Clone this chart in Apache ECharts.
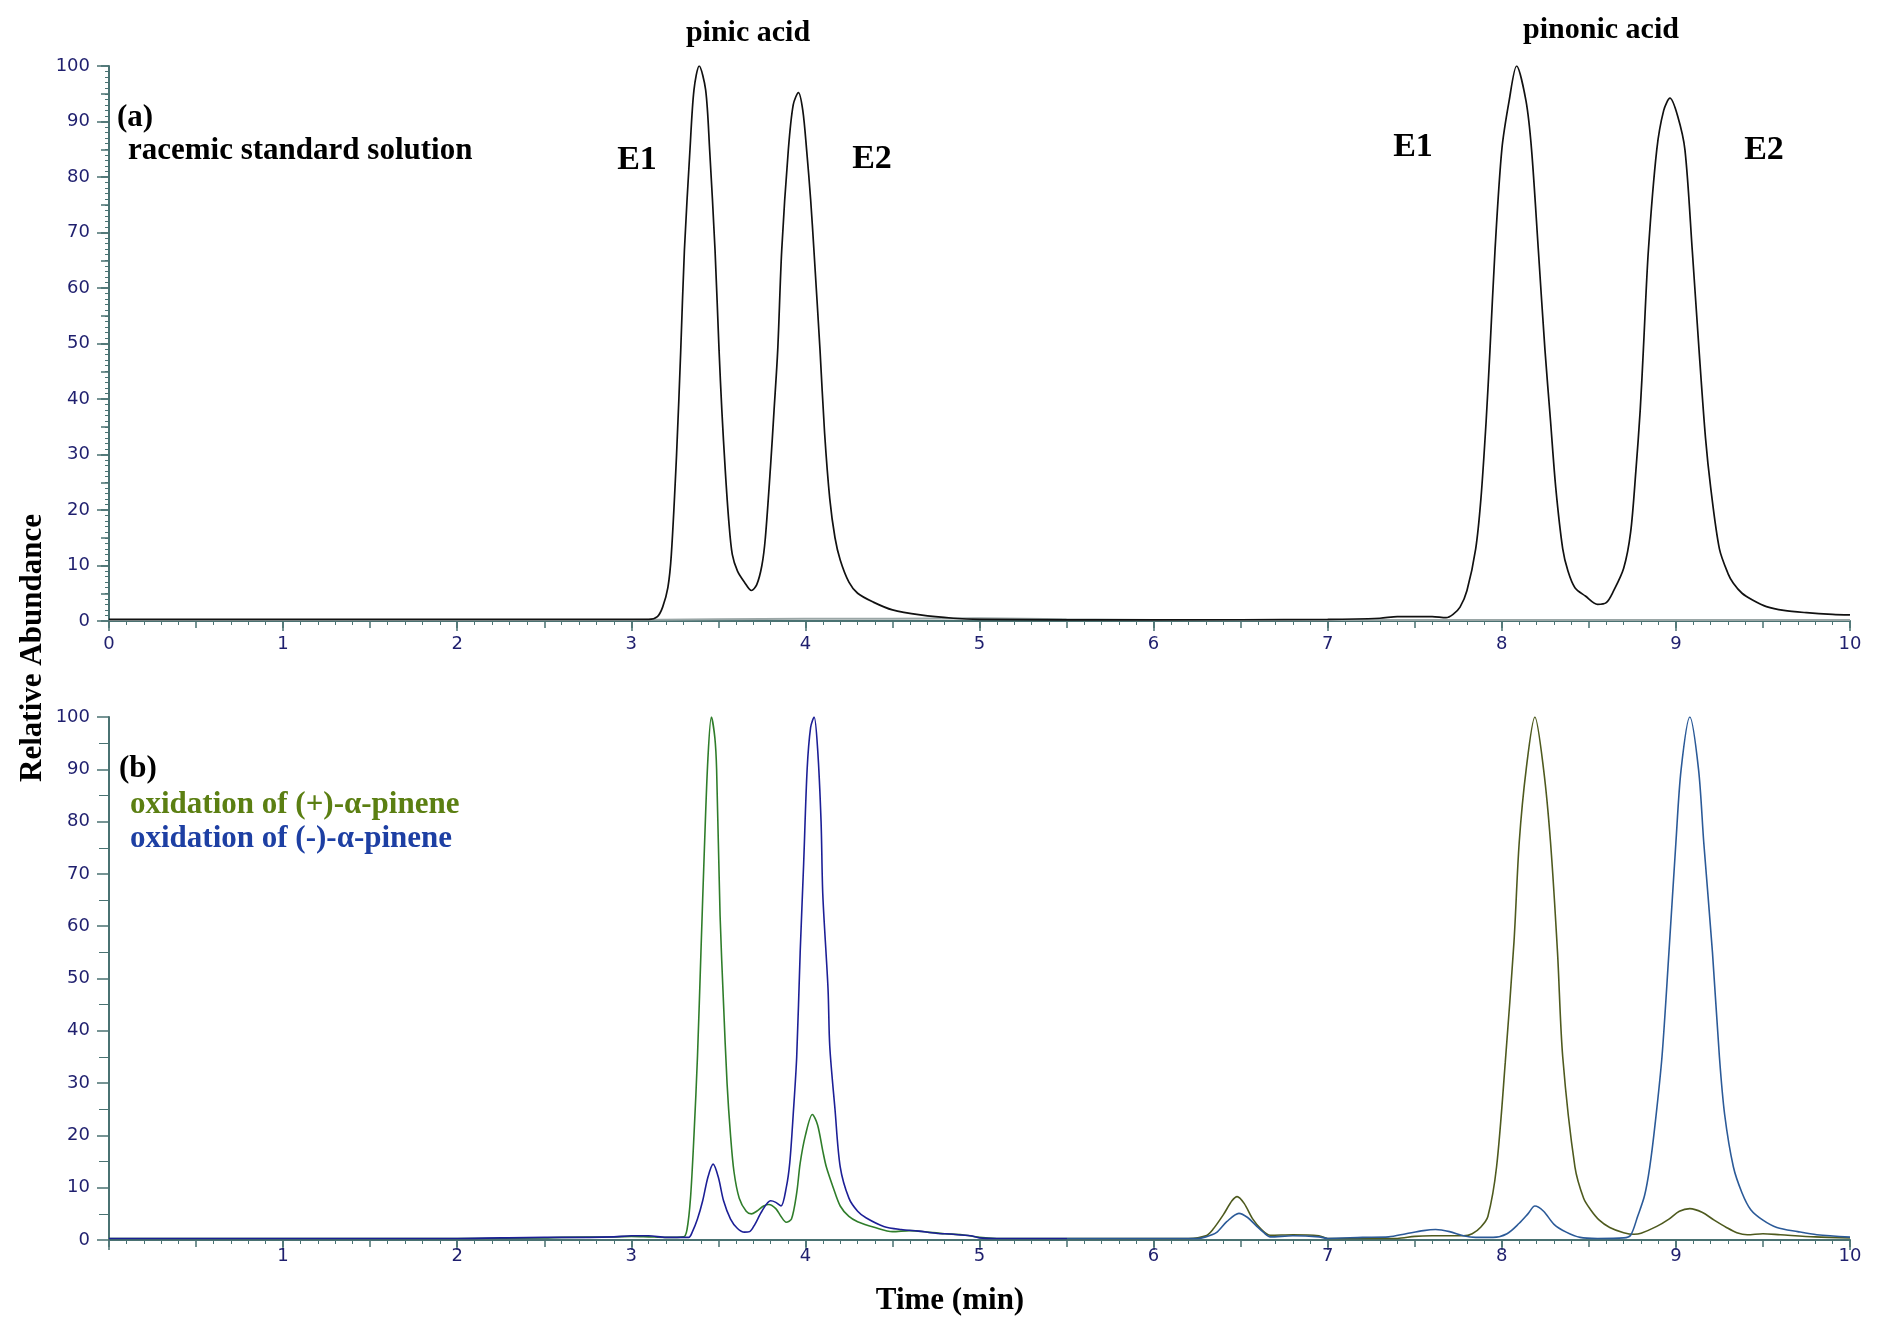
<!DOCTYPE html>
<html>
<head>
<meta charset="utf-8">
<script src="https://cdn.jsdelivr.net/npm/echarts@6/dist/echarts.min.js"></script>
<style>
  html, body { margin: 0; padding: 0; background: #fff; }
  #chart { width: 1892px; height: 1335px; }
</style>
</head>
<body>
<div id="chart"></div>
<script>
// racemic standard (panel a), [time min, relative abundance %]
const racemicTrace = [
  [0, 0.3], [0.5, 0.3], [1, 0.3], [1.5, 0.3], [2, 0.3], [2.5, 0.3], [3, 0.3], [3.1, 0.3],
  [3.15, 0.8], [3.18, 2.5], [3.21, 6], [3.23, 12], [3.26, 30], [3.284, 48.8], [3.305, 66.8],
  [3.337, 84.9], [3.36, 95.7], [3.39, 100], [3.427, 95.7], [3.45, 84.9], [3.481, 66.8],
  [3.504, 48.8], [3.52, 38], [3.54, 27], [3.56, 18], [3.58, 12], [3.61, 9], [3.65, 7],
  [3.69, 5.5], [3.72, 6.5], [3.75, 10], [3.77, 15], [3.8, 28], [3.82, 38], [3.841, 48.8],
  [3.864, 66.8], [3.902, 84.9], [3.93, 93], [3.96, 95.2], [3.985, 92], [4.007, 84.9],
  [4.03, 76], [4.049, 66.8], [4.084, 48.8], [4.11, 34], [4.14, 22], [4.17, 15], [4.2, 11],
  [4.25, 7], [4.3, 5], [4.39, 3.4], [4.5, 2], [4.66, 1.1], [4.85, 0.5], [5, 0.3], [6, 0.2],
  [7, 0.3], [7.3, 0.5], [7.4, 0.8], [7.6, 0.8], [7.68, 0.6], [7.72, 1.2], [7.76, 2.5],
  [7.8, 5.5], [7.85, 13], [7.88, 22], [7.91, 36], [7.932, 48.8], [7.961, 66.8], [8.0, 84.9],
  [8.042, 93.7], [8.085, 100], [8.139, 93.7], [8.171, 84.9], [8.21, 66.8], [8.248, 48.8],
  [8.28, 36], [8.31, 24], [8.35, 13], [8.38, 9], [8.42, 6], [8.48, 4.5], [8.55, 3],
  [8.6, 3.3], [8.64, 5.3], [8.7, 9.5], [8.74, 16], [8.77, 27], [8.795, 38], [8.813, 48.8],
  [8.842, 66.8], [8.89, 84.9], [8.93, 92], [8.966, 94.2], [9.01, 91], [9.052, 84.9],
  [9.094, 66.8], [9.133, 48.8], [9.17, 33], [9.2, 24], [9.25, 13], [9.3, 8.5], [9.33, 6.8],
  [9.38, 5], [9.44, 3.8], [9.52, 2.6], [9.62, 1.9], [9.75, 1.5], [9.9, 1.2], [10, 1.1]
];

// second (grey) channel of the standard, sits on the baseline
const racemicBaseline = [
  [0, 0.2], [3, 0.2], [3.5, 0.3], [4, 0.4], [4.5, 0.4], [5, 0.5], [5.5, 0.3],
  [6, 0.2], [7.5, 0.2], [8, 0.2], [10, 0.2]
];

// oxidation of (+)-alpha-pinene (panel b)
const plusTrace = [
  [0, 0.3], [1, 0.3], [2, 0.3], [2.5, 0.4], [2.6, 0.5], [2.9, 0.6], [3.0, 0.7], [3.1, 0.6],
  [3.2, 0.5], [3.3, 0.6], [3.32, 2], [3.34, 8], [3.36, 20], [3.38, 35], [3.4, 55],
  [3.42, 75], [3.44, 92], [3.46, 100], [3.48, 96], [3.49, 90], [3.51, 62], [3.53, 45],
  [3.55, 30], [3.57, 20], [3.59, 13], [3.62, 8], [3.66, 5.5], [3.69, 5], [3.72, 5.5],
  [3.76, 6.5], [3.79, 6.8], [3.83, 6], [3.86, 4.5], [3.89, 3.4], [3.92, 4], [3.95, 9],
  [3.97, 14.7], [4.0, 20], [4.04, 24], [4.07, 22], [4.1, 17], [4.12, 14], [4.16, 10],
  [4.2, 6.5], [4.25, 4.5], [4.3, 3.5], [4.4, 2.4], [4.5, 1.6], [4.6, 1.8], [4.7, 1.5],
  [4.8, 1.2], [4.9, 1.0], [5.0, 0.5], [5.1, 0.3], [6.2, 0.3], [6.3, 0.8], [6.34, 2],
  [6.4, 4.8], [6.45, 7.5], [6.48, 8.3], [6.52, 7], [6.57, 4], [6.62, 2], [6.67, 0.9],
  [6.8, 1.0], [6.95, 0.8], [7.0, 0.3], [7.4, 0.3], [7.5, 0.7], [7.6, 0.8], [7.78, 0.8],
  [7.83, 1.2], [7.88, 2.5], [7.92, 4.5], [7.97, 14], [8.02, 34], [8.07, 57], [8.1, 76],
  [8.14, 90], [8.19, 100], [8.24, 90], [8.28, 76], [8.32, 55], [8.35, 35], [8.42, 14],
  [8.47, 8], [8.51, 5.8], [8.56, 3.8], [8.62, 2.4], [8.7, 1.4], [8.76, 1.1], [8.8, 1.3],
  [8.89, 2.6], [8.96, 4], [9.02, 5.5], [9.08, 6], [9.15, 5.3], [9.22, 3.8], [9.29, 2.4],
  [9.35, 1.4], [9.41, 1.0], [9.5, 1.2], [9.6, 1.0], [9.8, 0.6], [10, 0.4]
];

// oxidation of (-)-alpha-pinene (panel b)
const minusTrace = [
  [0, 0.3], [1, 0.3], [2, 0.3], [2.5, 0.5], [2.6, 0.5], [2.9, 0.6], [3.0, 0.8], [3.1, 0.8],
  [3.2, 0.5], [3.33, 0.5], [3.35, 1.5], [3.38, 4], [3.41, 7.5], [3.44, 12], [3.47, 14.5],
  [3.5, 12], [3.53, 7.5], [3.57, 4], [3.61, 2.2], [3.65, 1.5], [3.68, 1.6], [3.71, 3],
  [3.75, 5.5], [3.8, 7.5], [3.83, 7.2], [3.86, 6.5], [3.89, 10], [3.91, 14.7], [3.93, 24],
  [3.95, 35], [3.97, 55], [3.99, 72], [4.01, 90], [4.03, 98], [4.05, 100], [4.07, 94],
  [4.09, 80], [4.1, 66], [4.13, 48], [4.14, 37], [4.17, 25], [4.2, 14], [4.25, 8],
  [4.3, 5.5], [4.35, 4.2], [4.45, 2.6], [4.55, 2.0], [4.65, 1.7], [4.75, 1.3], [4.85, 1.1],
  [4.95, 0.8], [5.0, 0.4], [5.1, 0.3], [6.25, 0.3], [6.3, 0.6], [6.36, 1.4], [6.42, 3.5],
  [6.49, 5.1], [6.54, 4.3], [6.59, 2.7], [6.63, 1.5], [6.67, 0.6], [6.8, 0.8], [6.95, 0.6],
  [7.0, 0.3], [7.2, 0.5], [7.35, 0.6], [7.45, 1.2], [7.55, 1.8], [7.62, 2], [7.7, 1.6],
  [7.78, 0.8], [7.85, 0.5], [7.95, 0.5], [8.03, 1.2], [8.1, 3.2], [8.15, 5], [8.19, 6.5],
  [8.24, 5.5], [8.3, 3], [8.37, 1.5], [8.45, 0.5], [8.55, 0.3], [8.7, 0.4], [8.74, 0.9],
  [8.78, 4.5], [8.82, 8.5], [8.85, 14], [8.88, 22], [8.92, 35], [8.96, 55], [9.0, 76],
  [9.03, 90], [9.08, 100], [9.13, 90], [9.16, 76], [9.21, 55], [9.25, 35], [9.28, 24],
  [9.33, 14], [9.38, 9], [9.43, 5.8], [9.5, 3.8], [9.58, 2.4], [9.7, 1.6], [9.81, 1.0],
  [10, 0.55]
];

const timeMin = 0, timeMax = 10;
const abundanceTicks = [0, 10, 20, 30, 40, 50, 60, 70, 80, 90, 100];
// the instrument trace colours switch after this time (min)
const colourSwitch = 5.5;

const axisColor = '#4a7272';
const labelColor = '#1f1f6e';
const serif = '"Liberation Serif", "Times New Roman", serif';
const sans = '"DejaVu Sans", Arial, sans-serif';

const chart = echarts.init(document.getElementById('chart'));

function minorX(gridIndex) {
  return {
    type: 'value', gridIndex: gridIndex, position: 'bottom', min: timeMin, max: timeMax, interval: 0.5,
    axisLine: { show: true, onZero: false, lineStyle: { color: axisColor, width: 2 } },
    axisTick: { show: true, length: 7, lineStyle: { color: axisColor, width: 1.5 } },
    minorTick: { show: true, splitNumber: 5, length: 4, lineStyle: { color: axisColor, width: 1 } },
    axisLabel: { show: false },
    splitLine: { show: false }
  };
}

function majorX(gridIndex, hideZero, margin) {
  return {
    type: 'value', gridIndex: gridIndex, position: 'bottom', min: timeMin, max: timeMax, interval: 1,
    axisLine: { show: false, onZero: false },
    axisTick: { show: true, length: 10, lineStyle: { color: axisColor, width: 1.5 } },
    axisLabel: {
      color: labelColor, fontFamily: sans, fontSize: 18, margin: margin,
      formatter: v => (hideZero && v === 0) ? '' : String(v)
    },
    splitLine: { show: false }
  };
}

function yAxis(gridIndex, minorSplit, minorLen) {
  return {
    type: 'value', gridIndex: gridIndex, position: 'left', min: abundanceTicks[0],
    max: abundanceTicks[abundanceTicks.length - 1], interval: 10,
    axisLine: { show: true, onZero: false, lineStyle: { color: axisColor, width: 2 } },
    axisTick: { show: true, length: 12, lineStyle: { color: axisColor, width: 1.5 } },
    minorTick: { show: true, splitNumber: minorSplit, length: minorLen, lineStyle: { color: axisColor, width: 1 } },
    axisLabel: { color: labelColor, fontFamily: sans, fontSize: 18, margin: 19 },
    splitLine: { show: false }
  };
}

// medium ticks at every 5 % on the top panel
function halfTickY(gridIndex) {
  return {
    type: 'value', gridIndex: gridIndex, position: 'left', offset: 0,
    min: abundanceTicks[0], max: abundanceTicks[abundanceTicks.length - 1], interval: 5,
    axisLine: { show: false, onZero: false },
    axisTick: { show: true, length: 8, lineStyle: { color: axisColor, width: 1.5 } },
    axisLabel: { show: false },
    splitLine: { show: false }
  };
}

// hard colour step across the x span of a full-width trace
function splitColour(before, after) {
  const f = (colourSwitch - timeMin) / (timeMax - timeMin);
  return new echarts.graphic.LinearGradient(0, 0, 1, 0, [
    { offset: 0, color: before }, { offset: f, color: before },
    { offset: f, color: after }, { offset: 1, color: after }
  ]);
}

function label(text, x, y, size, opts) {
  opts = opts || {};
  return {
    type: 'text', x: x, y: y, rotation: opts.rotation || 0, z: 10,
    style: {
      text: text, fill: opts.color || '#000',
      font: 'bold ' + size + 'px ' + serif,
      textAlign: opts.align || 'center', textVerticalAlign: 'middle'
    }
  };
}

const option = {
  animation: false,
  backgroundColor: '#fff',
  grid: [
    { left: 109, right: 42, top: 66, height: 555 },
    { left: 109, right: 42, top: 717, height: 523 }
  ],
  xAxis: [minorX(0), majorX(0, false, 14), minorX(1), majorX(1, true, 7)],
  yAxis: [yAxis(0, 10, 4), yAxis(1, 2, 10), halfTickY(0)],
  series: [
    {
      name: 'baseline', type: 'line', xAxisIndex: 0, yAxisIndex: 0, data: racemicBaseline,
      showSymbol: false, lineStyle: { color: '#9aa6a6', width: 2 }
    },
    {
      name: 'racemic standard solution', type: 'line', xAxisIndex: 0, yAxisIndex: 0,
      data: racemicTrace, showSymbol: false, smooth: 0.3,
      lineStyle: { color: '#111', width: 1.7 }
    },
    {
      name: 'oxidation of (+)-α-pinene', type: 'line', xAxisIndex: 2, yAxisIndex: 1,
      data: plusTrace, showSymbol: false, smooth: 0.3,
      lineStyle: { width: 1.6, color: splitColour('#2f7d2a', '#4e5a1e') }
    },
    {
      name: 'oxidation of (-)-α-pinene', type: 'line', xAxisIndex: 2, yAxisIndex: 1,
      data: minusTrace, showSymbol: false, smooth: 0.3,
      lineStyle: { width: 1.6, color: splitColour('#1c1f96', '#2b5a98') }
    }
  ],
  graphic: [
    label('pinic acid', 748, 33, 30),
    label('pinonic acid', 1601, 30, 30),
    label('E1', 637, 160, 34),
    label('E2', 872, 159, 34),
    label('E1', 1413, 147, 34),
    label('E2', 1764, 150, 34),
    label('(a)', 117, 118, 31, { align: 'left' }),
    label('racemic standard solution', 128, 151, 31, { align: 'left' }),
    label('(b)', 119, 769, 31, { align: 'left' }),
    label('oxidation of (+)-α-pinene', 130, 805, 31, { align: 'left', color: '#5b7f12' }),
    label('oxidation of (-)-α-pinene', 130, 839, 31, { align: 'left', color: '#1d3fa3' }),
    label('Relative Abundance', 33, 648, 31, { rotation: Math.PI / 2 }),
    label('Time (min)', 950, 1301, 31)
  ]
};

chart.setOption(option);
window.addEventListener('resize', () => chart.resize());
</script>
</body>
</html>
